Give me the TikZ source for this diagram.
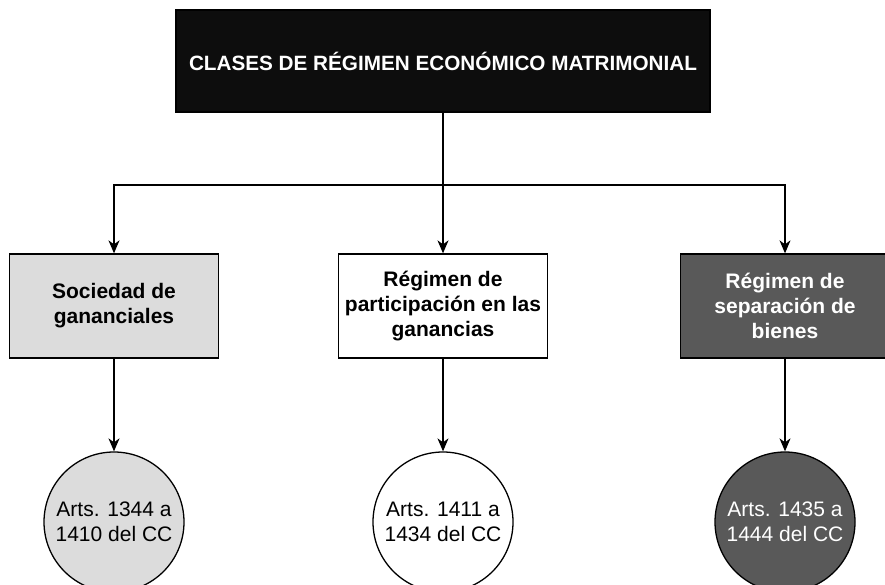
\documentclass[tikz,border=0pt]{standalone}
\usepackage{fontspec}
\setmainfont{Liberation Sans}
\usetikzlibrary{arrows.meta,positioning}
\definecolor{grisclaro}{HTML}{DCDCDC}
\definecolor{grisoscuro}{HTML}{595959}
\definecolor{casinegro}{HTML}{0D0D0D}
\tikzset{
	caja/.style={draw, line width=1.3pt, minimum width=209pt, minimum height=104pt, align=center, font=\fontsize{21}{25}\selectfont\bfseries},
	arts/.style={draw, circle, line width=1.3pt, minimum size=140pt, inner sep=0pt, align=center, font=\fontsize{21}{25}\selectfont},
	flecha/.style={line width=1.3pt, -{Stealth[length=13pt,width=11pt,inset=4pt]}}
}
\newcommand{\articulos}[4]{
	\node[arts, #3] (arts_#1) at (#2,522) {#4};
}

\begin{document}
\begin{tikzpicture}[x=1pt,y=-1pt]
		\useasboundingbox (0,0) rectangle (885,585);
		\node[draw, fill=casinegro, text=white, line width=1.3pt, minimum width=534pt, minimum height=102pt, font=\fontsize{20.7}{24}\selectfont\bfseries] (clases) at (443,61) {CLASES DE RÉGIMEN ECONÓMICO MATRIMONIAL};
		\coordinate (reparto) at (443,185);

		\node[caja, fill=grisclaro] (sociedad) at (114,306) {Sociedad de\\gananciales};
		\node[caja, fill=white] (participacion) at (443,306) {Régimen de\\participación en las\\ganancias};
		\node[caja, fill=grisoscuro, text=white] (separacion) at (785,306) {Régimen de\\separación de\\bienes};

		\articulos{soc}{114}{fill=grisclaro}{Arts. 1344 a\\1410 del CC};
		\articulos{part}{443}{fill=white}{Arts. 1411 a\\1434 del CC};
		\articulos{sep}{785}{fill=grisoscuro, text=white}{Arts. 1435 a\\1444 del CC};

		\draw[line width=1.3pt] (clases) -- (reparto);
		\draw[flecha] (reparto) -| (sociedad);
		\draw[flecha] (reparto) -- (participacion);
		\draw[flecha] (reparto) -| (separacion);

		\draw[flecha] (sociedad) -- (arts_soc);
		\draw[flecha] (participacion) -- (arts_part);
		\draw[flecha] (separacion) -- (arts_sep);
	\end{tikzpicture}
\end{document}
